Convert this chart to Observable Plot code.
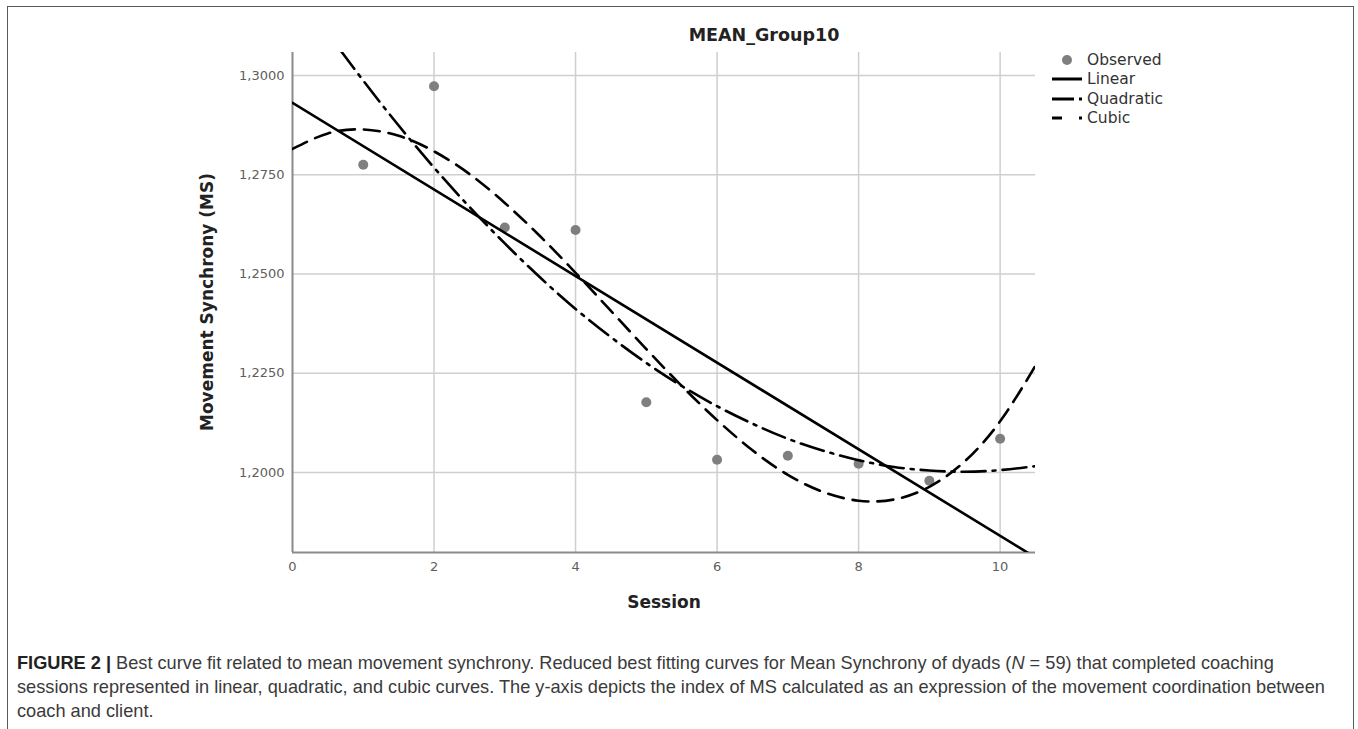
<!DOCTYPE html>
<html>
<head>
<meta charset="utf-8">
<script src="https://cdn.jsdelivr.net/npm/d3@7"></script>
<script src="https://cdn.jsdelivr.net/npm/@observablehq/plot@0.6"></script>
<style>
  html, body { margin: 0; padding: 0; background: #fff; }
  #wrap { position: relative; width: 1358px; height: 729px; overflow: hidden; }
  #frame { position: absolute; left: 7px; top: 6px; width: 1347px; height: 760px;
           border: 1.5px solid #5a5a5a; box-sizing: border-box; }
  #chart { position: absolute; left: 0; top: 0; }
  .lbl { position: absolute; font-family: "DejaVu Sans", sans-serif; color: #222; white-space: nowrap; }
  #title { left: 764px; top: 35px; transform: translate(-50%, -50%); font-weight: bold; font-size: 17.5px; }
  #ytitle { left: 207px; top: 302px; transform: translate(-50%, -50%) rotate(-90deg); font-weight: bold; font-size: 17px; }
  #xtitle { left: 664px; top: 602px; transform: translate(-50%, -50%); font-weight: bold; font-size: 17px; }
  #legend { position: absolute; left: 1048px; top: 50px; font-family: "DejaVu Sans", sans-serif; font-size: 15.5px; color: #333; }
  .legrow { height: 19.5px; display: flex; align-items: center; }
  .legrow svg { width: 38px; height: 14px; }
  #caption { position: absolute; left: 17px; top: 651px; font-family: "Liberation Sans", Arial, sans-serif;
             font-size: 18.2px; line-height: 24px; color: #3a3a3a; white-space: nowrap; }
  #caption b { color: #222; }
</style>
</head>
<body>
<div id="wrap">
  <div id="frame"></div>
  <div id="chart"></div>
  <div class="lbl" id="title"></div>
  <div class="lbl" id="ytitle"></div>
  <div class="lbl" id="xtitle"></div>
  <div id="legend"></div>
  <div id="caption"></div>
</div>
<script>
// ---- data ----
const chartTitle = "MEAN_Group10";
const xLabel = "Session";
const yLabel = "Movement Synchrony (MS)";
const sessions = [1, 2, 3, 4, 5, 6, 7, 8, 9, 10];
const observed = [1.2775, 1.2973, 1.2617, 1.2611, 1.2177, 1.2032, 1.2042, 1.2022, 1.1979, 1.2085];
const linearX = [0, 10.5];
const linearY = [1.2931, 1.1786];
const fitX = [0, 0.5, 1, 1.5, 2, 2.5, 3, 3.5, 4, 4.5, 5, 5.5, 6, 6.5, 7, 7.5, 8, 8.5, 9, 9.5, 10, 10.5];
const quadraticY = [1.3234, 1.3107, 1.2987, 1.2874, 1.2768, 1.2669, 1.2577, 1.2491, 1.2412, 1.2341, 1.2276,
                    1.2218, 1.2167, 1.2123, 1.2085, 1.2055, 1.2031, 1.2014, 1.2005, 1.2002, 1.2006, 1.2016];
const cubicY = [1.2815, 1.2854, 1.2864, 1.2848, 1.2809, 1.2752, 1.2679, 1.2595, 1.2503, 1.2407, 1.2311,
                1.2218, 1.2132, 1.2056, 1.1994, 1.1951, 1.1929, 1.1932, 1.1964, 1.2028, 1.2129, 1.2269];
const xTicks = [0, 2, 4, 6, 8, 10];
const yTicks = [1.2, 1.225, 1.25, 1.275, 1.3];
const legendLabels = ["Observed", "Linear", "Quadratic", "Cubic"];
const captionLines = [
  ["FIGURE 2 |", " Best curve fit related to mean movement synchrony. Reduced best fitting curves for Mean Synchrony of dyads (", "N", " = 59) that completed coaching"],
  ["", "sessions represented in linear, quadratic, and cubic curves. The y-axis depicts the index of MS calculated as an expression of the movement coordination between"],
  ["", "coach and client."]
];

// ---- build tables ----
const obsData = sessions.map((s, i) => ({x: s, y: observed[i]}));
const linData = linearX.map((x, i) => ({x, y: linearY[i]}));
const quadData = fitX.map((x, i) => ({x, y: quadraticY[i]}));
const cubData = fitX.map((x, i) => ({x, y: cubicY[i]}));

const xDomain = [0, 10.5];
const yDomain = [1.17985, 1.30579];
const fmt = d => d.toFixed(4).replace(".", ",");

const plot = Plot.plot({
  width: 1358,
  height: 620,
  marginLeft: 292,
  marginRight: 323,
  marginTop: 52,
  marginBottom: 68,
  style: {fontFamily: "DejaVu Sans, sans-serif", fontSize: "13px", color: "#5e5e5e", background: "transparent", overflow: "visible"},
  x: {domain: xDomain},
  y: {domain: yDomain},
  marks: [
    Plot.gridX({ticks: xTicks.filter(d => d > 0), stroke: "#cfcfcf", strokeOpacity: 1, strokeWidth: 1.5}),
    Plot.gridY({ticks: yTicks, stroke: "#cfcfcf", strokeOpacity: 1, strokeWidth: 1.5}),
    Plot.axisX({ticks: xTicks, tickSize: 0, tickPadding: 9, label: null}),
    Plot.axisY({ticks: yTicks, tickSize: 0, tickPadding: 8, tickFormat: fmt, label: null}),
    Plot.ruleX([xDomain[0]], {stroke: "#8a8a8a", strokeWidth: 2}),
    Plot.ruleY([yDomain[0]], {stroke: "#8a8a8a", strokeWidth: 2}),
    Plot.dot(obsData, {x: "x", y: "y", r: 5, fill: "#7f7f7f", stroke: "none"}),
    Plot.line(linData, {x: "x", y: "y", stroke: "#000", strokeWidth: 2.6, clip: true}),
    Plot.line(quadData, {x: "x", y: "y", curve: "natural", stroke: "#000", strokeWidth: 2.6, strokeDasharray: "24,7,3,7", clip: true}),
    Plot.line(cubData, {x: "x", y: "y", curve: "natural", stroke: "#000", strokeWidth: 2.6, strokeDasharray: "16,9", clip: true})
  ]
});
document.getElementById("chart").appendChild(plot);

document.getElementById("title").textContent = chartTitle;
document.getElementById("ytitle").textContent = yLabel;
document.getElementById("xtitle").textContent = xLabel;

// legend
const swatches = [
  '<circle cx="19" cy="7" r="5" fill="#7f7f7f"/>',
  '<line x1="4" y1="7" x2="34" y2="7" stroke="#000" stroke-width="3"/>',
  '<line x1="4" y1="7" x2="34" y2="7" stroke="#000" stroke-width="3" stroke-dasharray="22,5,3,10"/>',
  '<line x1="4" y1="7" x2="34" y2="7" stroke="#000" stroke-width="3" stroke-dasharray="10,17,3,10"/>'
];
const leg = document.getElementById("legend");
legendLabels.forEach((lab, i) => {
  const row = document.createElement("div");
  row.className = "legrow";
  row.innerHTML = `<svg viewBox="0 0 38 14">${swatches[i]}</svg><span style="margin-left:1px">${lab}</span>`;
  leg.appendChild(row);
});

// caption
const cap = document.getElementById("caption");
cap.innerHTML = captionLines.map(parts => {
  if (parts.length === 4) return `<b>${parts[0]}</b>${parts[1]}<i>${parts[2]}</i>${parts[3]}`;
  return parts[1];
}).join("<br>");
</script>
</body>
</html>
